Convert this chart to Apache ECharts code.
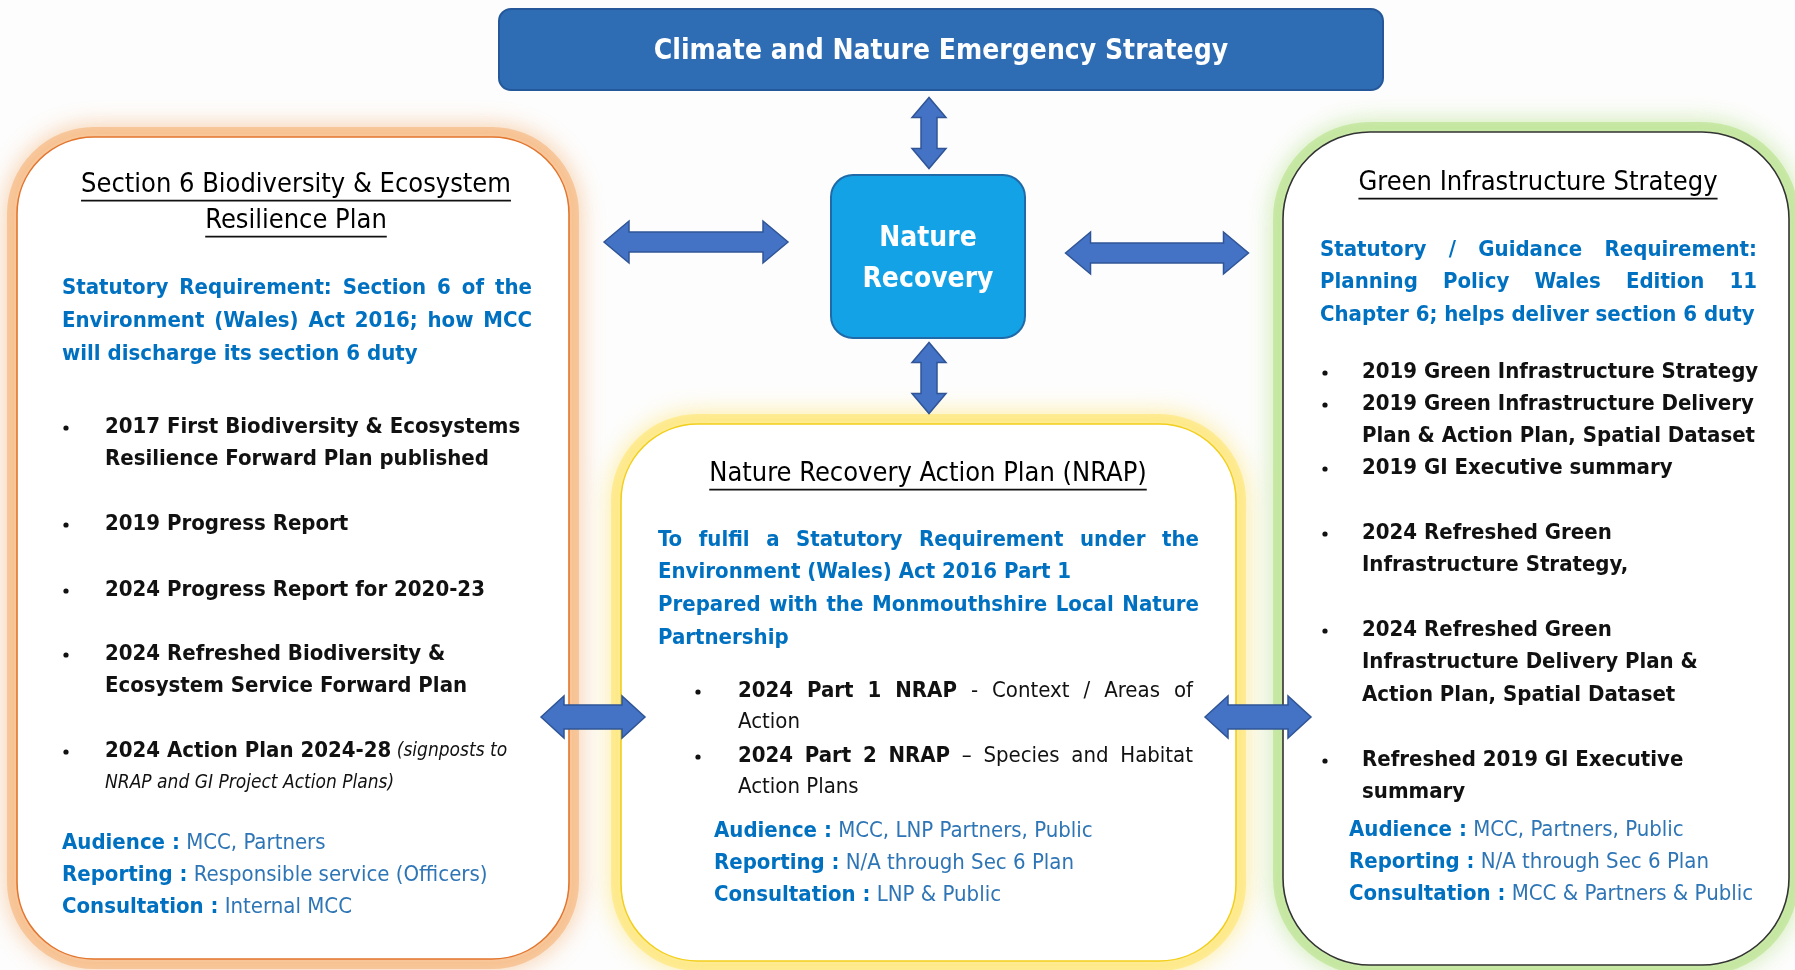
<!DOCTYPE html>
<html>
<head>
<meta charset="utf-8">
<script src="https://cdn.jsdelivr.net/npm/echarts@6/dist/echarts.min.js"></script>
<style>
html, body { margin: 0; padding: 0; background: #fff; }
#main { width: 1795px; height: 970px; }
</style>
</head>
<body>
<div id="main"></div>
<script>
// ---- text content ----
const headerTitle = 'Climate and Nature Emergency Strategy';
const hubLabel = ['Nature', 'Recovery'];

const sec6Title = ['Section 6 Biodiversity & Ecosystem', 'Resilience Plan'];
const sec6Requirement = [
    'Statutory Requirement: Section 6 of the',
    'Environment (Wales) Act 2016; how MCC',
    'will discharge its section 6 duty'
];
const sec6Items = [
    ['{b|2017 First Biodiversity & Ecosystems}', '{b|Resilience Forward Plan published}'],
    ['{b|2019 Progress Report}'],
    ['{b|2024 Progress Report for 2020-23}'],
    ['{b|2024 Refreshed Biodiversity &}', '{b|Ecosystem Service Forward Plan}'],
    ['{b|2024 Action Plan 2024-28 }{i|(signposts to}', '{i|NRAP and GI Project Action Plans)}']
];
const sec6Meta = [
    ['Audience :', 'MCC, Partners'],
    ['Reporting :', 'Responsible service (Officers)'],
    ['Consultation :', 'Internal MCC']
];

const nrapTitle = ['Nature Recovery Action Plan (NRAP)'];
const nrapRequirement = [
    'To fulfil a Statutory Requirement under the',
    'Environment (Wales) Act 2016 Part 1',
    'Prepared with the Monmouthshire Local Nature',
    'Partnership'
];
const nrapItems = [
    ['{b|2024 Part 1 NRAP}{r|  - Context / Areas of}', '{r|Action}'],
    ['{b|2024  Part 2 NRAP}{r| – Species and Habitat}', '{r|Action Plans}']
];
const nrapMeta = [
    ['Audience :', 'MCC, LNP Partners, Public'],
    ['Reporting :', 'N/A through Sec 6 Plan'],
    ['Consultation :', 'LNP & Public']
];

const giTitle = ['Green Infrastructure Strategy'];
const giRequirement = [
    'Statutory / Guidance Requirement:',
    'Planning Policy Wales Edition 11',
    'Chapter 6; helps deliver section 6 duty'
];
const giItems = [
    ['{b|2019 Green Infrastructure Strategy}'],
    ['{b|2019 Green Infrastructure Delivery}', '{b|Plan & Action Plan, Spatial Dataset}'],
    ['{b|2019 GI Executive summary}'],
    ['{b|2024 Refreshed Green}', '{b|Infrastructure Strategy,}'],
    ['{b|2024 Refreshed Green}', '{b|Infrastructure Delivery Plan &}', '{b|Action Plan, Spatial Dataset}'],
    ['{b|Refreshed 2019 GI Executive}', '{b|summary}']
];
const giMeta = [
    ['Audience :', 'MCC, Partners, Public'],
    ['Reporting :', 'N/A through Sec 6 Plan'],
    ['Consultation :', 'MCC & Partners & Public']
];

// ---- drawing helpers ----
const FONT = '"DejaVu Sans Condensed", "DejaVu Sans", sans-serif';
const BODY = 22;
const BLUE = '#0070c0';
const BLUE_LIGHT = '#2e75b6';
const INK = '#111111';

const ctx = document.createElement('canvas').getContext('2d');
function fontOf(st, size) {
    if (st === 'b') return 'bold ' + size + 'px ' + FONT;
    if (st === 'i') return 'italic ' + Math.round(size * 0.88) + 'px ' + FONT;
    return size + 'px ' + FONT;
}
function measure(text, font) {
    ctx.font = font;
    return ctx.measureText(text).width;
}
// "{b|bold}{r|regular} plain" -> [[style, text], ...]
function parseSegs(line, defStyle) {
    const segs = [];
    const re = /\{(\w+)\|([^}]*)\}/g;
    let m, last = 0;
    while ((m = re.exec(line))) {
        if (m.index > last) segs.push([defStyle, line.slice(last, m.index)]);
        segs.push([m[1], m[2]]);
        last = re.lastIndex;
    }
    if (last < line.length) segs.push([defStyle, line.slice(last)]);
    return segs;
}

const els = [];

// one line of words, optionally justified to a right edge
function textLine(line, x, y, opt) {
    const size = opt.size || BODY;
    const words = [];
    let spaces = 0;
    parseSegs(line, opt.style || 'r').forEach(([st, txt]) => {
        txt.split(' ').forEach((p, i) => {
            if (i > 0) spaces++;
            if (p === '') return;
            const font = fontOf(st, size);
            const fill = st === 'r' && opt.lightFill ? opt.lightFill : opt.fill;
            words.push({ t: p, font, sp: spaces, w: measure(p, font), fill });
            spaces = 0;
        });
    });
    let gap = null;
    if (opt.justifyTo && words.length > 1) {
        const total = words.reduce((a, w) => a + w.w, 0);
        gap = (opt.justifyTo - x - total) / (words.length - 1);
    }
    let cx = x;
    words.forEach((w, i) => {
        if (i > 0) cx += gap !== null ? gap : w.sp * measure(' ', w.font);
        els.push({
            type: 'text', silent: true,
            style: { text: w.t, x: cx, y: y, font: w.font, fill: w.fill, verticalAlign: 'middle' }
        });
        cx += w.w;
    });
    return cx;
}

function title(lines, cx, y0, step, size) {
    lines.forEach((t, i) => {
        const font = size + 'px ' + FONT;
        const w = measure(t, font);
        const y = y0 + i * step;
        els.push({ type: 'text', silent: true,
            style: { text: t, x: cx, y: y, font: font, fill: '#000', align: 'center', verticalAlign: 'middle' } });
        els.push({ type: 'line', silent: true,
            shape: { x1: cx - w / 2, y1: y + size * 0.58, x2: cx + w / 2, y2: y + size * 0.58 },
            style: { stroke: INK, lineWidth: 1.8 } });
    });
}

function paragraph(lines, x, y0, step, right, justified) {
    lines.forEach((t, i) => {
        textLine(t, x, y0 + i * step, { style: 'b', fill: BLUE, justifyTo: justified.indexOf(i) >= 0 ? right : 0 });
    });
}

function bullets(items, bx, tx, ys, step, opt) {
    items.forEach((lines, k) => {
        els.push({ type: 'circle', silent: true, shape: { cx: bx, cy: ys[k] + 1, r: 2.6 }, style: { fill: INK } });
        lines.forEach((t, j) => {
            const just = opt && opt.justifyTo && j === 0 ? opt.justifyTo : 0;
            textLine(t, tx, ys[k] + j * step, { fill: INK, justifyTo: just });
        });
    });
}

function meta(rows, x, y0, step) {
    rows.forEach((r, i) => {
        textLine('{b|' + r[0] + '}{r| ' + r[1] + '}', x, y0 + i * step, { fill: BLUE, lightFill: BLUE_LIGHT });
    });
}

function glowBox(x, y, w, h, r, glow, edge) {
    els.push({ type: 'rect', silent: true, shape: { x, y, width: w, height: h, r },
        style: { fill: '#fff', stroke: glow, lineWidth: 14, opacity: 0.45, shadowBlur: 24, shadowColor: glow } });
    els.push({ type: 'rect', silent: true, shape: { x: x + 3, y: y + 3, width: w - 6, height: h - 6, r: r - 3 },
        style: { fill: '#fff', stroke: edge, lineWidth: 1.6 } });
}

function arrow(cx, cy, len, horizontal, shaft, head, headLen) {
    const L = len / 2, s = shaft / 2, hh = head / 2;
    let pts = [
        [-L, 0], [-L + headLen, -hh], [-L + headLen, -s], [L - headLen, -s], [L - headLen, -hh],
        [L, 0], [L - headLen, hh], [L - headLen, s], [-L + headLen, s], [-L + headLen, hh]
    ];
    pts = pts.map(p => horizontal ? [cx + p[0], cy + p[1]] : [cx + p[1], cy + p[0]]);
    els.push({ type: 'polygon', silent: true, shape: { points: pts },
        style: { fill: '#4472c4', stroke: '#2f5597', lineWidth: 1.5 } });
}

// ---- layout ----
// boxes
glowBox(14, 134, 558, 828, 80, '#f4a35c', '#e3762f');
glowBox(618, 421, 621, 543, 80, '#ffe14d', '#f2cf1d');
glowBox(1280, 129, 512, 839, 90, '#a6dc6e', '#333333');

// header
els.push({ type: 'rect', silent: true, shape: { x: 499, y: 9, width: 884, height: 81, r: 12 },
    style: { fill: '#2e6db4', stroke: '#24589a', lineWidth: 2 } });
els.push({ type: 'text', silent: true,
    style: { text: headerTitle, x: 941, y: 52, font: 'bold 28px ' + FONT, fill: '#fff', align: 'center', verticalAlign: 'middle' } });

// hub
els.push({ type: 'rect', silent: true, shape: { x: 831, y: 175, width: 194, height: 163, r: 22 },
    style: { fill: '#14a2e6', stroke: '#1f6aa8', lineWidth: 2 } });
hubLabel.forEach((t, i) => {
    els.push({ type: 'text', silent: true,
        style: { text: t, x: 928, y: 239 + i * 41, font: 'bold 28px ' + FONT, fill: '#fff', align: 'center', verticalAlign: 'middle' } });
});

// arrows
arrow(929, 133, 71, false, 16, 34, 20);
arrow(929, 378, 71, false, 16, 34, 20);
arrow(696, 242, 184, true, 20, 42, 25);
arrow(1157, 253, 183, true, 20, 42, 25);
arrow(593, 717, 104, true, 24, 42, 23);
arrow(1258, 717, 106, true, 24, 42, 23);

// left: section 6
title(sec6Title, 296, 185, 36, 27);
paragraph(sec6Requirement, 62, 288, 33, 532, [0, 1]);
bullets(sec6Items, 66, 105, [427, 524, 590, 654, 751], 32);
meta(sec6Meta, 62, 843, 32);

// middle: NRAP
title(nrapTitle, 928, 474, 36, 27);
paragraph(nrapRequirement, 658, 540, 32.7, 1199, [0, 2]);
bullets(nrapItems, 698, 738, [691, 756], 31, { justifyTo: 1193 });
meta(nrapMeta, 714, 831, 32);

// right: green infrastructure
title(giTitle, 1538, 183, 36, 27);
paragraph(giRequirement, 1320, 250, 32.5, 1757, [0, 1]);
bullets(giItems, 1325, 1362, [372, 404, 468, 533, 630, 760], 32.5);
meta(giMeta, 1349, 830, 32);

const chart = echarts.init(document.getElementById('main'));
chart.setOption({
    backgroundColor: '#fdfdfd',
    animation: false,
    graphic: { elements: els }
});
</script>
</body>
</html>
